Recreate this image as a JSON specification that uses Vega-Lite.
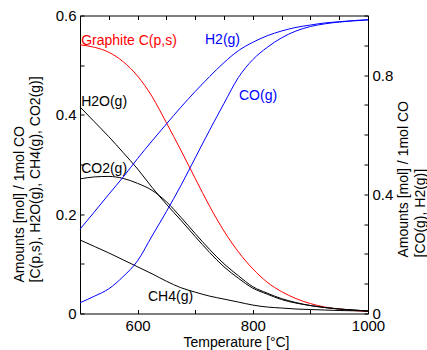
{
  "$schema": "https://vega.github.io/schema/vega-lite/v6.json",
  "width": 288,
  "height": 298,
  "autosize": {"type": "none"},
  "padding": {"left": 80, "top": 15.5, "right": 58.5, "bottom": 36.5},
  "background": "white",
  "config": {
    "view": {"stroke": null},
    "axis": {
      "grid": false,
      "domainColor": "black",
      "domainWidth": 1,
      "tickColor": "black",
      "tickWidth": 1,
      "tickSize": -4,
      "labelColor": "black",
      "labelFont": "Liberation Sans",
      "labelFontSize": 15,
      "labelFlush": false,
      "labelOverlap": false,
      "titleColor": "black",
      "titleFont": "Liberation Sans",
      "titleFontSize": 14,
      "titleFontWeight": "normal"
    }
  },
  "datasets": {
    "left": [
      {"T": 500, "s": "Graphite", "v": 0.541}, {"T": 525, "s": "Graphite", "v": 0.536}, {"T": 550, "s": "Graphite", "v": 0.526}, {"T": 575, "s": "Graphite", "v": 0.507}, {"T": 600, "s": "Graphite", "v": 0.478}, {"T": 625, "s": "Graphite", "v": 0.437}, {"T": 650, "s": "Graphite", "v": 0.384}, {"T": 675, "s": "Graphite", "v": 0.329}, {"T": 700, "s": "Graphite", "v": 0.272}, {"T": 725, "s": "Graphite", "v": 0.216}, {"T": 750, "s": "Graphite", "v": 0.166}, {"T": 775, "s": "Graphite", "v": 0.124}, {"T": 800, "s": "Graphite", "v": 0.090}, {"T": 825, "s": "Graphite", "v": 0.063}, {"T": 850, "s": "Graphite", "v": 0.044}, {"T": 875, "s": "Graphite", "v": 0.030}, {"T": 900, "s": "Graphite", "v": 0.020}, {"T": 925, "s": "Graphite", "v": 0.013}, {"T": 950, "s": "Graphite", "v": 0.009}, {"T": 975, "s": "Graphite", "v": 0.006}, {"T": 1000, "s": "Graphite", "v": 0.004},
      {"T": 500, "s": "H2O", "v": 0.416}, {"T": 525, "s": "H2O", "v": 0.386}, {"T": 550, "s": "H2O", "v": 0.356}, {"T": 575, "s": "H2O", "v": 0.324}, {"T": 600, "s": "H2O", "v": 0.291}, {"T": 625, "s": "H2O", "v": 0.254}, {"T": 650, "s": "H2O", "v": 0.220}, {"T": 675, "s": "H2O", "v": 0.188}, {"T": 700, "s": "H2O", "v": 0.155}, {"T": 725, "s": "H2O", "v": 0.123}, {"T": 750, "s": "H2O", "v": 0.094}, {"T": 775, "s": "H2O", "v": 0.071}, {"T": 800, "s": "H2O", "v": 0.051}, {"T": 825, "s": "H2O", "v": 0.039}, {"T": 850, "s": "H2O", "v": 0.028}, {"T": 875, "s": "H2O", "v": 0.021}, {"T": 900, "s": "H2O", "v": 0.016}, {"T": 925, "s": "H2O", "v": 0.012}, {"T": 950, "s": "H2O", "v": 0.009}, {"T": 975, "s": "H2O", "v": 0.007}, {"T": 1000, "s": "H2O", "v": 0.005},
      {"T": 500, "s": "CO2", "v": 0.271}, {"T": 525, "s": "CO2", "v": 0.275}, {"T": 550, "s": "CO2", "v": 0.276}, {"T": 575, "s": "CO2", "v": 0.272}, {"T": 600, "s": "CO2", "v": 0.262}, {"T": 625, "s": "CO2", "v": 0.248}, {"T": 650, "s": "CO2", "v": 0.225}, {"T": 675, "s": "CO2", "v": 0.194}, {"T": 700, "s": "CO2", "v": 0.161}, {"T": 725, "s": "CO2", "v": 0.129}, {"T": 750, "s": "CO2", "v": 0.100}, {"T": 775, "s": "CO2", "v": 0.076}, {"T": 800, "s": "CO2", "v": 0.054}, {"T": 825, "s": "CO2", "v": 0.041}, {"T": 850, "s": "CO2", "v": 0.030}, {"T": 875, "s": "CO2", "v": 0.022}, {"T": 900, "s": "CO2", "v": 0.016}, {"T": 925, "s": "CO2", "v": 0.012}, {"T": 950, "s": "CO2", "v": 0.009}, {"T": 975, "s": "CO2", "v": 0.007}, {"T": 1000, "s": "CO2", "v": 0.005},
      {"T": 500, "s": "CH4", "v": 0.148}, {"T": 525, "s": "CH4", "v": 0.135}, {"T": 550, "s": "CH4", "v": 0.122}, {"T": 575, "s": "CH4", "v": 0.108}, {"T": 600, "s": "CH4", "v": 0.094}, {"T": 625, "s": "CH4", "v": 0.080}, {"T": 650, "s": "CH4", "v": 0.065}, {"T": 675, "s": "CH4", "v": 0.052}, {"T": 700, "s": "CH4", "v": 0.043}, {"T": 725, "s": "CH4", "v": 0.035}, {"T": 750, "s": "CH4", "v": 0.029}, {"T": 775, "s": "CH4", "v": 0.023}, {"T": 800, "s": "CH4", "v": 0.017}, {"T": 825, "s": "CH4", "v": 0.013}, {"T": 850, "s": "CH4", "v": 0.011}, {"T": 875, "s": "CH4", "v": 0.009}, {"T": 900, "s": "CH4", "v": 0.008}, {"T": 925, "s": "CH4", "v": 0.007}, {"T": 950, "s": "CH4", "v": 0.006}, {"T": 975, "s": "CH4", "v": 0.0055}, {"T": 1000, "s": "CH4", "v": 0.005}
    ],
    "right": [
      {"T": 500, "s": "H2", "v": 0.283}, {"T": 525, "s": "H2", "v": 0.341}, {"T": 550, "s": "H2", "v": 0.400}, {"T": 575, "s": "H2", "v": 0.458}, {"T": 600, "s": "H2", "v": 0.520}, {"T": 625, "s": "H2", "v": 0.579}, {"T": 650, "s": "H2", "v": 0.636}, {"T": 675, "s": "H2", "v": 0.692}, {"T": 700, "s": "H2", "v": 0.745}, {"T": 725, "s": "H2", "v": 0.795}, {"T": 750, "s": "H2", "v": 0.842}, {"T": 775, "s": "H2", "v": 0.882}, {"T": 800, "s": "H2", "v": 0.910}, {"T": 825, "s": "H2", "v": 0.932}, {"T": 850, "s": "H2", "v": 0.948}, {"T": 875, "s": "H2", "v": 0.960}, {"T": 900, "s": "H2", "v": 0.968}, {"T": 925, "s": "H2", "v": 0.975}, {"T": 950, "s": "H2", "v": 0.979}, {"T": 975, "s": "H2", "v": 0.983}, {"T": 1000, "s": "H2", "v": 0.986},
      {"T": 500, "s": "CO", "v": 0.036}, {"T": 525, "s": "CO", "v": 0.058}, {"T": 550, "s": "CO", "v": 0.083}, {"T": 575, "s": "CO", "v": 0.124}, {"T": 600, "s": "CO", "v": 0.177}, {"T": 625, "s": "CO", "v": 0.260}, {"T": 650, "s": "CO", "v": 0.342}, {"T": 675, "s": "CO", "v": 0.429}, {"T": 700, "s": "CO", "v": 0.522}, {"T": 725, "s": "CO", "v": 0.615}, {"T": 750, "s": "CO", "v": 0.705}, {"T": 775, "s": "CO", "v": 0.792}, {"T": 800, "s": "CO", "v": 0.852}, {"T": 825, "s": "CO", "v": 0.893}, {"T": 850, "s": "CO", "v": 0.925}, {"T": 875, "s": "CO", "v": 0.948}, {"T": 900, "s": "CO", "v": 0.963}, {"T": 925, "s": "CO", "v": 0.972}, {"T": 950, "s": "CO", "v": 0.978}, {"T": 975, "s": "CO", "v": 0.982}, {"T": 1000, "s": "CO", "v": 0.985}
    ],
    "labels": [
      {"label": "Graphite C(p,s)", "s": "Graphite", "T": 502, "v": 0.549},
      {"label": "H2(g)", "s": "H2", "T": 717, "v": 0.551},
      {"label": "CO(g)", "s": "CO", "T": 776, "v": 0.4385},
      {"label": "H2O(g)", "s": "H2O", "T": 502, "v": 0.425},
      {"label": "CO2(g)", "s": "CO2", "T": 502, "v": 0.290},
      {"label": "CH4(g)", "s": "CH4", "T": 618, "v": 0.0326}
    ]
  },
  "resolve": {"scale": {"y": "independent"}, "axis": {"x": "independent"}},
  "layer": [
    {
      "layer": [
        {
          "data": {"name": "left"},
          "mark": {"type": "line", "strokeWidth": 1, "interpolate": "monotone"},
          "encoding": {
            "x": {"field": "T", "type": "quantitative", "scale": {"domain": [500, 1000], "nice": false},
              "axis": {"orient": "bottom", "values": [500, 550, 600, 650, 700, 750, 800, 850, 900, 950, 1000], "format": "d",
                "labelExpr": "datum.value == 600 || datum.value == 800 || datum.value == 1000 ? datum.label : ''",
                "labelPadding": 9, "title": "Temperature [°C]", "titleX": 156, "titleY": 21.5, "titleAlign": "center", "titleBaseline": "top", "titleAnchor": null}},
            "y": {"field": "v", "type": "quantitative", "scale": {"domain": [0, 0.6], "nice": false},
              "axis": {"orient": "left", "values": [0, 0.1, 0.2, 0.3, 0.4, 0.5, 0.6], "format": "~g",
                "labelExpr": "datum.value == 0 || datum.value == 0.2 || datum.value == 0.4 || datum.value == 0.6 ? datum.label : ''",
                "labelPadding": 8,
                "title": ["Amounts [mol] / 1mol CO", "[C(p,s), H2O(g), CH4(g), CO2(g)]"],
                "titleAngle": 270, "titleAlign": "left", "titleBaseline": "top", "titleX": -68, "titleY": 266.5, "titleLineHeight": 16}},
            "color": {"field": "s", "type": "nominal", "legend": null,
              "scale": {"domain": ["Graphite", "H2O", "CO2", "CH4", "H2", "CO"], "range": ["#ff0000", "#000000", "#000000", "#000000", "#0000ff", "#0000ff"]}},
            "detail": {"field": "s"}
          }
        },
        {
          "data": {"name": "labels"},
          "mark": {"type": "text", "align": "left", "baseline": "middle", "font": "Liberation Sans", "fontSize": 14},
          "encoding": {
            "x": {"field": "T", "type": "quantitative"},
            "y": {"field": "v", "type": "quantitative"},
            "text": {"field": "label"},
            "color": {"field": "s", "type": "nominal", "legend": null}
          }
        }
      ]
    },
    {
      "data": {"name": "right"},
      "mark": {"type": "line", "strokeWidth": 1, "interpolate": "monotone"},
      "encoding": {
        "x": {"field": "T", "type": "quantitative",
          "axis": {"orient": "top", "values": [500, 550, 600, 650, 700, 750, 800, 850, 900, 950, 1000], "labels": false, "title": null}},
        "y": {"field": "v", "type": "quantitative", "scale": {"domain": [0, 1], "nice": false},
          "axis": {"orient": "right", "values": [0, 0.1, 0.2, 0.3, 0.4, 0.5, 0.6, 0.7, 0.8, 0.9, 1], "format": "~g",
            "labelExpr": "datum.value == 0 || datum.value == 0.4 || datum.value == 0.8 ? datum.label : ''",
            "labelPadding": 8,
            "title": ["Amounts [mol] / 1mol CO", "[CO(g), H2(g)]"],
            "titleAngle": 270, "titleAlign": "left", "titleBaseline": "top", "titleX": 28.5, "titleY": 241.5, "titleLineHeight": 17}},
        "color": {"field": "s", "type": "nominal", "legend": null},
        "detail": {"field": "s"}
      }
    }
  ]
}
